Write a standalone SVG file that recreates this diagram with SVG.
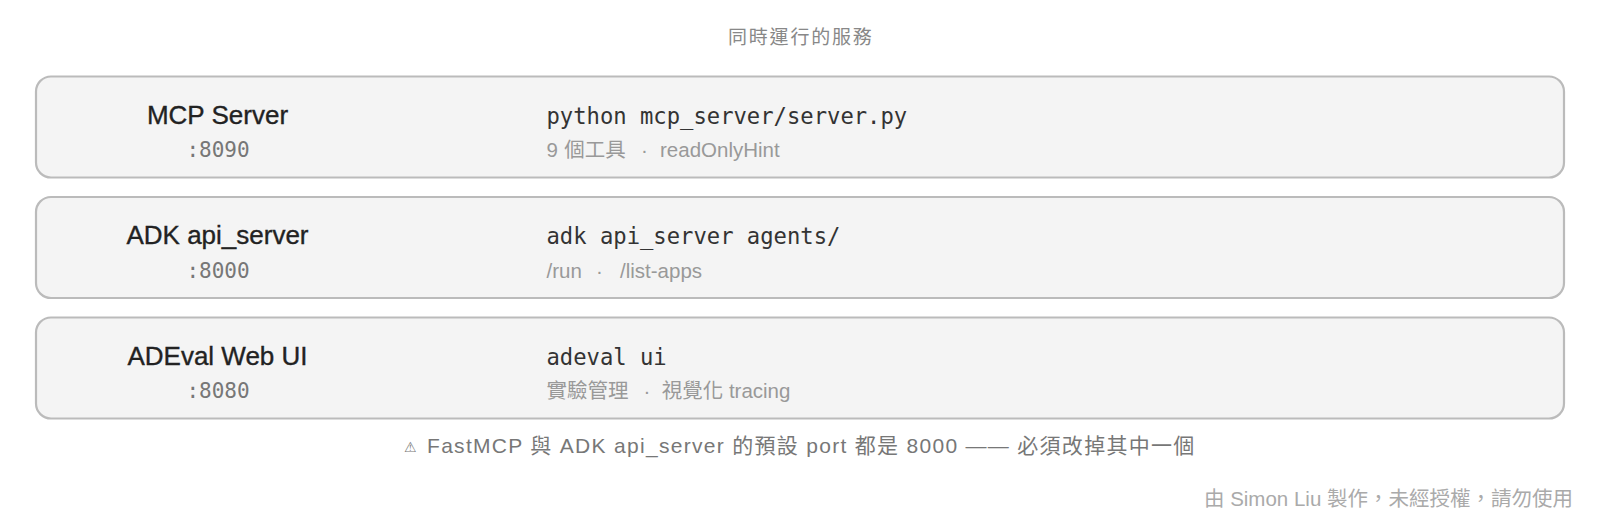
<svg xmlns="http://www.w3.org/2000/svg" width="1600" height="524" viewBox="0 0 1600 524">
<style>
.box{fill:#f4f4f4;stroke:#bbbbbb;stroke-width:2.2}
.name{font-family:"Liberation Sans","Noto Sans CJK TC",sans-serif;font-size:26px;fill:#222;stroke:#222;stroke-width:0.35;text-anchor:middle}
.port{font-family:"DejaVu Sans Mono","Liberation Mono",monospace;font-size:21px;fill:#777;text-anchor:middle}
.cmd{font-family:"DejaVu Sans Mono","Liberation Mono",monospace;font-size:22.2px;fill:#333}
.sub{font-family:"Liberation Sans","Noto Sans CJK TC",sans-serif;font-size:20.5px;fill:#999}
.title{font-family:"Liberation Sans","Noto Sans CJK TC",sans-serif;font-size:19px;fill:#888;letter-spacing:1.8px}
.warn{font-family:"Liberation Sans","Noto Sans CJK TC",sans-serif;font-size:21px;fill:#777;letter-spacing:1.3px}
.warnicon{font-family:"DejaVu Sans",sans-serif;font-size:14px;fill:#777}
.foot{font-family:"Liberation Sans","Noto Sans CJK TC",sans-serif;font-size:20.5px;fill:#aaa;text-anchor:end}
</style>
<rect width="1600" height="524" fill="#ffffff"/>
<text class="title" x="728" y="44">同時運行的服務</text>
<g id="mcp-server">
<rect class="box" x="36" y="76.5" width="1528" height="101" rx="15"/>
<text class="name" x="217.5" y="123.5">MCP Server</text>
<text class="port" x="218" y="157">:8090</text>
<text class="cmd" x="546.5" y="123.5">python mcp_server/server.py</text>
<text class="sub" y="157"><tspan x="546.5">9</tspan><tspan x="564.3">個工具</tspan><tspan x="641">·</tspan><tspan x="660">readOnlyHint</tspan></text>
</g>
<g id="adk-api-server">
<rect class="box" x="36" y="197" width="1528" height="101" rx="15"/>
<text class="name" x="217.5" y="244">ADK api_server</text>
<text class="port" x="218" y="277.5">:8000</text>
<text class="cmd" x="546.5" y="244">adk api_server agents/</text>
<text class="sub" y="277.5"><tspan x="546.5">/run</tspan><tspan x="596">·</tspan><tspan x="620">/list-apps</tspan></text>
</g>
<g id="adeval-web-ui">
<rect class="box" x="36" y="317.5" width="1528" height="101" rx="15"/>
<text class="name" x="217.5" y="364.5">ADEval Web UI</text>
<text class="port" x="218" y="398">:8080</text>
<text class="cmd" x="546.5" y="364.5">adeval ui</text>
<text class="sub" y="398"><tspan x="546.5">實驗管理</tspan><tspan x="643.5">·</tspan><tspan x="661.7">視覺化 tracing</tspan></text>
</g>
<g id="connectors"></g>
<text class="warnicon" x="404" y="452">⚠</text>
<text class="warn" x="427" y="453">FastMCP 與 ADK api_server 的預設 port 都是 8000 —— 必須改掉其中一個</text>
<text class="foot" x="1573" y="506">由 Simon Liu 製作，未經授權，請勿使用</text>
</svg>
